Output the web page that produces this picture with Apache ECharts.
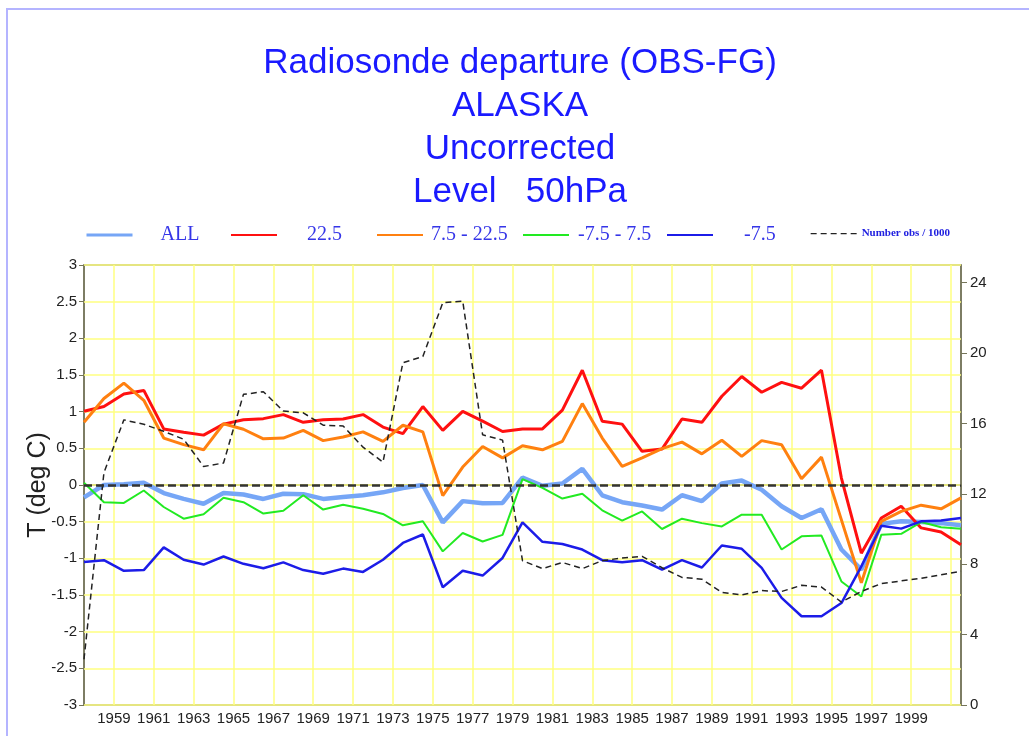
<!DOCTYPE html>
<html><head><meta charset="utf-8">
<script src="https://cdn.jsdelivr.net/npm/echarts@6/dist/echarts.min.js"></script>
<style>html,body{margin:0;padding:0;background:#fff}#c{width:1029px;height:736px}</style>
</head><body><div id="c"></div>
<script>
// ---------------- data ----------------
const years = [1957,1958,1959,1960,1961,1962,1963,1964,1965,1966,1967,1968,1969,1970,1971,1972,1973,1974,1975,1976,1977,1978,1979,1980,1981,1982,1983,1984,1985,1986,1987,1988,1989,1990,1991,1992,1993,1994,1995,1996,1997,1998,1999,2000,2001];

const allLat = [-0.17,0.00,0.01,0.03,-0.11,-0.19,-0.255,-0.11,-0.13,-0.19,-0.12,-0.125,-0.19,-0.165,-0.14,-0.10,-0.04,0.00,-0.51,-0.22,-0.25,-0.245,0.10,-0.01,0.02,0.22,-0.14,-0.235,-0.28,-0.335,-0.14,-0.22,0.02,0.06,-0.065,-0.29,-0.45,-0.33,-0.88,-1.155,-0.53,-0.495,-0.505,-0.52,-0.55];

const latAbove225 = [1.005,1.07,1.24,1.29,0.765,0.72,0.68,0.83,0.89,0.905,0.96,0.855,0.89,0.90,0.96,0.79,0.70,1.07,0.745,1.005,0.87,0.73,0.765,0.765,1.02,1.565,0.87,0.83,0.46,0.49,0.90,0.855,1.21,1.48,1.265,1.40,1.32,1.565,0.095,-0.93,-0.45,-0.29,-0.585,-0.64,-0.815];

const lat75to225 = [0.855,1.18,1.39,1.155,0.64,0.55,0.48,0.835,0.76,0.63,0.64,0.745,0.605,0.655,0.725,0.595,0.815,0.725,-0.145,0.245,0.525,0.37,0.535,0.48,0.595,1.11,0.64,0.255,0.37,0.495,0.585,0.425,0.61,0.39,0.605,0.55,0.085,0.38,-0.475,-1.335,-0.495,-0.36,-0.275,-0.325,-0.175];

const latMinus75to75 = [0.03,-0.235,-0.245,-0.075,-0.30,-0.46,-0.40,-0.175,-0.235,-0.39,-0.35,-0.14,-0.335,-0.27,-0.325,-0.395,-0.55,-0.495,-0.905,-0.655,-0.77,-0.68,0.08,-0.04,-0.185,-0.12,-0.345,-0.485,-0.36,-0.60,-0.46,-0.52,-0.565,-0.405,-0.405,-0.88,-0.70,-0.69,-1.315,-1.52,-0.68,-0.665,-0.505,-0.575,-0.595];

const latBelowMinus75 = [-1.05,-1.025,-1.17,-1.16,-0.85,-1.02,-1.085,-0.975,-1.075,-1.135,-1.055,-1.16,-1.21,-1.14,-1.185,-1.02,-0.79,-0.675,-1.395,-1.17,-1.235,-0.995,-0.51,-0.775,-0.805,-0.88,-1.025,-1.055,-1.025,-1.155,-1.025,-1.125,-0.825,-0.87,-1.13,-1.54,-1.79,-1.79,-1.61,-1.11,-0.555,-0.595,-0.495,-0.485,-0.45];

const obsPer1000 = [2.6,13.2,16.2,15.95,15.55,15.1,13.55,13.75,17.65,17.8,16.7,16.6,15.9,15.85,14.65,13.8,19.45,19.8,22.85,22.95,15.35,15.05,8.2,7.75,8.1,7.75,8.2,8.35,8.45,7.8,7.25,7.15,6.4,6.25,6.5,6.45,6.8,6.7,5.85,6.45,6.9,7.05,7.2,7.4,7.6];

const xLabelYears = [1959,1961,1963,1965,1967,1969,1971,1973,1975,1977,1979,1981,1983,1985,1987,1989,1991,1993,1995,1997,1999];
const xGridYears  = [1959,1961,1963,1965,1967,1969,1971,1973,1975,1977,1979,1981,1983,1985,1987,1989,1991,1993,1995,1997,1999,2001];
const leftTicks   = [-3,-2.5,-2,-1.5,-1,-0.5,0,0.5,1,1.5,2,2.5,3];
const rightTicks  = [0,4,8,12,16,20,24];

const titleLines = ['Radiosonde departure (OBS-FG)', 'ALASKA', 'Uncorrected', 'Level   50hPa'];
const seriesNames = ['ALL', '22.5', '7.5 - 22.5', '-7.5 - 7.5', '-7.5', 'Number obs / 1000'];

// ---------------- chart ----------------
const FONT = 'Liberation Sans';
const SERIF = 'Liberation Serif';
const axisColor = '#75755a';
const yellow = '#ffff80';
const xMin = years[0] + 0.5, xMax = years[years.length - 1] + 0.5;
const pts = vals => years.map((y, i) => [y + 0.5, vals[i]]);

const colors = ['#76a6f6', '#ff1010', '#ff8010', '#22ea22', '#1c1ce8', '#222222'];
const widths = [4.5, 3, 3, 2, 2.5, 1.5];

function legendItem(idx, left, top, padLeft, extra) {
  return Object.assign({
    data: [seriesNames[idx]], left: left, top: top, padding: 0,
    itemWidth: 46, itemHeight: 14, selectedMode: false,
    itemStyle: { opacity: 0 },
    lineStyle: { width: idx === 0 ? 3 : (idx === 5 ? 1.3 : 2) },
    textStyle: { fontFamily: SERIF, fontSize: 20, color: '#3535e8', padding: [0, 0, 0, padLeft] }
  }, extra || {});
}

const gridLines = xGridYears.map(y => ({ xAxis: y })).concat(leftTicks.map(v => ({ yAxis: v })));

const chart = echarts.init(document.getElementById('c'), null, { renderer: 'canvas' });
chart.setOption({
  animation: false,
  backgroundColor: '#ffffff',
  title: {
    text: titleLines.join('\n'), left: 515, top: 37, textAlign: 'center',
    textStyle: { fontFamily: FONT, fontSize: 35, fontWeight: 'normal', color: '#1a1aff', lineHeight: 43 }
  },
  graphic: [{
    type: 'rect', silent: true, z: -1,
    shape: { x: 7, y: 9, width: 1100, height: 900 },
    style: { fill: 'none', stroke: '#b4b4ff', lineWidth: 2 }
  }],
  legend: [
    legendItem(0, 85, 225, 23),
    legendItem(1, 230, 225, 25),
    legendItem(2, 376, 225, 3),
    legendItem(3, 522, 225, 4),
    legendItem(4, 666, 225, 26),
    legendItem(5, 810, 228, 0, { textStyle: { fontFamily: SERIF, fontSize: 11, fontWeight: 'bold', color: '#2020e0', padding: [0, 0, 0, 0] } })
  ],
  grid: { left: 84, right: 68, top: 265, bottom: 31, show: true, borderColor: axisColor, borderWidth: 1.5 },
  xAxis: {
    type: 'value', min: xMin, max: xMax,
    axisLine: { show: true, lineStyle: { color: axisColor, width: 1.5 } },
    axisTick: { show: true, length: 5, customValues: [xMin].concat(xGridYears, [xMax]), lineStyle: { color: axisColor } },
    axisLabel: { customValues: xLabelYears, formatter: v => String(v), color: '#222', fontFamily: FONT, fontSize: 15, margin: 6 },
    splitLine: { show: false },
    minorSplitLine: { show: false }
  },
  yAxis: [{
    type: 'value', min: -3, max: 3, interval: 0.5,
    name: 'T (deg C)', nameLocation: 'middle', nameGap: 33, nameMoveOverlap: false,
    nameTextStyle: { fontFamily: FONT, fontSize: 25, color: '#222' },
    axisLine: { show: true, lineStyle: { color: axisColor, width: 1.5 } },
    axisTick: { show: true, length: 5, lineStyle: { color: axisColor } },
    axisLabel: { color: '#222', fontFamily: FONT, fontSize: 15, margin: 7 },
    splitLine: { show: false }
  }, {
    type: 'value', position: 'right', min: 0, max: 25,
    axisLine: { show: true, lineStyle: { color: axisColor, width: 1.5 } },
    axisTick: { show: true, length: 6, customValues: rightTicks, lineStyle: { color: axisColor } },
    axisLabel: { customValues: rightTicks, color: '#222', fontFamily: FONT, fontSize: 15, margin: 9 },
    splitLine: { show: false }
  }],
  series: [
    { type: 'line', data: [], silent: true, z: 1,
      markLine: { silent: true, z: 1, symbol: ['none', 'none'], label: { show: false }, animation: false,
        lineStyle: { color: yellow, type: 'solid', width: 1.5 },
        data: gridLines } },
    { name: seriesNames[0], type: 'line', data: pts(allLat), symbol: 'none', lineStyle: { color: colors[0], width: widths[0] }, itemStyle: { color: colors[0] }, z: 2 },
    { name: seriesNames[1], type: 'line', data: pts(latAbove225), symbol: 'none', lineStyle: { color: colors[1], width: widths[1] }, itemStyle: { color: colors[1] }, z: 3 },
    { name: seriesNames[2], type: 'line', data: pts(lat75to225), symbol: 'none', lineStyle: { color: colors[2], width: widths[2] }, itemStyle: { color: colors[2] }, z: 3 },
    { name: seriesNames[3], type: 'line', data: pts(latMinus75to75), symbol: 'none', lineStyle: { color: colors[3], width: widths[3] }, itemStyle: { color: colors[3] }, z: 3 },
    { name: seriesNames[4], type: 'line', data: pts(latBelowMinus75), symbol: 'none', lineStyle: { color: colors[4], width: widths[4] }, itemStyle: { color: colors[4] }, z: 3 },
    { name: seriesNames[5], type: 'line', yAxisIndex: 1, data: pts(obsPer1000), symbol: 'none',
      lineStyle: { color: colors[5], width: widths[5], type: [6, 4] }, itemStyle: { color: colors[5] }, z: 4,
      markLine: { silent: true, symbol: ['none', 'none'], label: { show: false },
        lineStyle: { color: '#333', type: [8, 4], width: 2.5 },
        data: [{ yAxis: 12.5 }] } }
  ]
});
</script>
</body></html>
